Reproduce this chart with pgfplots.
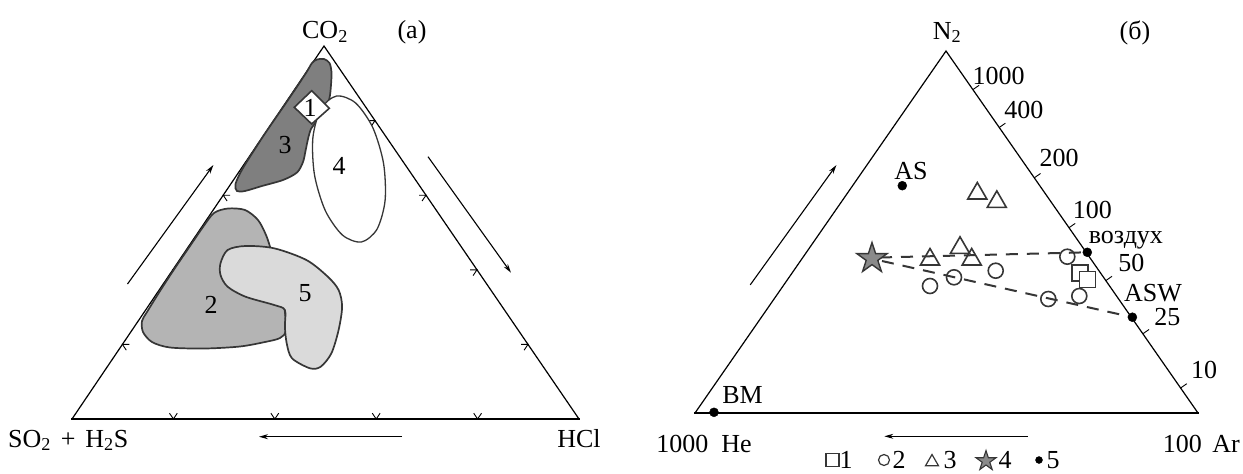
\documentclass[border=0pt]{standalone}
\usepackage{pgfplots}
\pgfplotsset{compat=1.18}
\usepackage{fontspec}
\setmainfont{Liberation Serif}
\usetikzlibrary{arrows.meta}
\definecolor{regA}{HTML}{7F7F7F}
\definecolor{regB}{HTML}{B4B4B4}
\definecolor{regC}{HTML}{DADADA}
\definecolor{outl}{HTML}{363636}
\definecolor{starf}{HTML}{8A8A8A}
\newcommand\fs{\fontsize{26}{31}\selectfont}
\pgfdeclareplotmark{fstar}{%
  \pgfpathmoveto{\pgfpoint{0pt}{\pgfplotmarksize}}%
  \pgfpathlineto{\pgfpoint{-0.2245\pgfplotmarksize}{0.309\pgfplotmarksize}}%
  \pgfpathlineto{\pgfpoint{-0.951\pgfplotmarksize}{0.309\pgfplotmarksize}}%
  \pgfpathlineto{\pgfpoint{-0.363\pgfplotmarksize}{-0.118\pgfplotmarksize}}%
  \pgfpathlineto{\pgfpoint{-0.588\pgfplotmarksize}{-0.809\pgfplotmarksize}}%
  \pgfpathlineto{\pgfpoint{0pt}{-0.382\pgfplotmarksize}}%
  \pgfpathlineto{\pgfpoint{0.588\pgfplotmarksize}{-0.809\pgfplotmarksize}}%
  \pgfpathlineto{\pgfpoint{0.363\pgfplotmarksize}{-0.118\pgfplotmarksize}}%
  \pgfpathlineto{\pgfpoint{0.951\pgfplotmarksize}{0.309\pgfplotmarksize}}%
  \pgfpathlineto{\pgfpoint{0.2245\pgfplotmarksize}{0.309\pgfplotmarksize}}%
  \pgfpathclose
  \pgfusepathqfillstroke
}
\begin{document}
\begin{tikzpicture}[lab/.style={font=\fs, inner sep=0pt},
  arr/.style={black, line width=1.1pt, -{Stealth[length=9pt,width=5pt]}}]
\begin{axis}[
  at={(0,0)}, anchor=south west,
  width=1243pt, height=474pt, scale only axis,
  xmin=0, xmax=1243, ymin=0, ymax=474, y dir=reverse,
  hide axis, clip=false, unbounded coords=jump,
]
% ---------------- left triangle (a) ----------------
\addplot[black, line width=1.2pt] coordinates {(72,419) (324,46) (579,419)};
\addplot[black, line width=2.6pt] coordinates {(71,419) (580,419)};
% ticks
\addplot[black, line width=0.9pt] coordinates {
 (280.6,120.6) (273.6,120.6) (277.5,126.4) (0,nan)
 (230.2,195.2) (223.2,195.2) (227.1,201.0) (0,nan)
 (179.8,269.8) (172.8,269.8) (176.7,275.6) (0,nan)
 (129.4,344.4) (122.4,344.4) (126.3,350.2) (0,nan)
 (368,120.6) (375,120.6) (371.1,126.4) (0,nan)
 (419,195.2) (426,195.2) (422.1,201.0) (0,nan)
 (470,269.8) (477,269.8) (473.1,275.6) (0,nan)
 (521,344.4) (528,344.4) (524.1,350.2) (0,nan)
 (169.5,413.2) (173.4,419) (177.3,413.2) (0,nan)
 (270.9,413.2) (274.8,419) (278.7,413.2) (0,nan)
 (372.3,413.2) (376.2,419) (380.1,413.2) (0,nan)
 (473.7,413.2) (477.6,419) (481.5,413.2)
};
% region 3
\addplot[draw=outl, fill=regA, line width=1.7pt, smooth cycle, tension=0.5] coordinates {
 (312,63) (317,59.5) (324,59) (329.5,63) (331.5,72) (331,85) (329.5,98) (325,110)
 (317,121) (311,129) (308,139) (305.5,151) (303,162) (297,172.5) (283,180) (262,186)
 (245,191) (237,191) (235.5,184) (243,168) (264,135) (288,100) (306,73)};
% region 4 (ellipse)
\addplot[draw=outl, fill=white, line width=1.3pt, smooth cycle] coordinates {
 (361.4,242.0) (377.0,229.2) (385.1,200.4) (383.5,163.1) (372.7,127.4) (355.5,102.9)
 (336.6,96.0) (321.0,108.8) (312.9,137.6) (314.5,174.9) (325.3,210.6) (342.5,235.1)};
% region 2
\addplot[draw=outl, fill=regB, line width=1.7pt, smooth cycle, tension=0.5] coordinates {
 (214,213) (228,208.5) (245,210) (258,220) (266,235) (271,250) (278,275) (284,305)
 (286,330) (280,338) (265,342) (240,346.5) (205,348.5) (170,347.5) (152,342) (143,332)
 (142,321) (147,312) (160,291) (175,268) (190,246) (203,227)};
% region 5
\addplot[draw=outl, fill=regC, line width=1.7pt, smooth cycle, tension=0.5] coordinates {
 (220.5,263.3) (227.6,250) (245.5,246) (274.2,248.3) (306.4,260) (327.8,276.7)
 (338.6,290) (342.1,306.7) (338.6,330) (331.4,353.3) (320.7,366.7) (310,368.3)
 (292,358.3) (286.7,343.3) (284.9,326.7) (284.9,310) (274.2,305) (245.5,296.7)
 (227.6,286.7) (220.5,275)};
% region 1 (diamond)
\addplot[draw=outl, fill=white, line width=1.6pt] coordinates {
 (294.3,107.3) (311.7,90.7) (329.3,108.3) (311.7,124)} -- cycle;
% arrows
\addplot[arr] coordinates {(127.5,284) (213.4,165)};
\addplot[arr] coordinates {(428,156.7) (511,272.7)};
\addplot[arr] coordinates {(402,436.7) (259,436.7)};
% labels
\node[lab, anchor=center] at (axis cs:310,108) {1};
\node[lab, anchor=center] at (axis cs:285,145) {3};
\node[lab, anchor=center] at (axis cs:339,166) {4};
\node[lab, anchor=center] at (axis cs:211,305) {2};
\node[lab, anchor=center] at (axis cs:305,293) {5};
\node[lab, anchor=base] at (axis cs:325,38.5) {CO\textsubscript{2}};
\node[lab, anchor=base] at (axis cs:412,38.5) {(а)};
\node[lab, anchor=base west] at (axis cs:8,447) {SO\textsubscript{2}\hspace{0.38em}+\hspace{0.38em}H\textsubscript{2}S};
\node[lab, anchor=base] at (axis cs:579,447) {HCl};
% ---------------- right triangle (b) ----------------
\addplot[black, line width=1.2pt] coordinates {(695,413) (946,51) (1198,413)};
\addplot[black, line width=2.6pt] coordinates {(694,413) (1199,413)};
\addplot[black, line width=0.9pt] coordinates {
 (972.9,89.6) (979.1,85.3) (0,nan)
 (999.2,127.5) (1005.4,123.2) (0,nan)
 (1034.3,177.8) (1040.5,173.5) (0,nan)
 (1069.0,227.7) (1075.2,223.4) (0,nan)
 (1105.8,280.6) (1112,276.3) (0,nan)
 (1142.8,333.8) (1149,329.5) (0,nan)
 (1180.6,388) (1186.8,383.7)};
% dashed mixing lines
\addplot[outl, line width=2pt, dash pattern=on 12pt off 9pt] coordinates {(880,257.5) (1087.3,252.3)};
\addplot[outl, line width=2pt, dash pattern=on 12pt off 9pt] coordinates {(882,261) (1132.4,317.2)};
% arrows
\addplot[arr] coordinates {(750.2,284.9) (836.4,165.1)};
\addplot[arr] coordinates {(1027.8,436.3) (884.3,436.3)};
% series 3: triangles
\addplot[only marks, mark=triangle, mark size=11pt, mark options={draw=outl, line width=1.6pt, fill=none}] coordinates {
 (977.3,193.5) (996.8,201.9) (930,259.5) (960,247.8) (971.7,259.5)};
% series 2: circles
\addplot[only marks, mark=o, mark size=7.5pt, mark options={draw=outl, line width=1.6pt, fill=white}] coordinates {
 (930,286) (954,277.3) (995.7,270.7) (1067.3,256.7) (1048.3,299) (1079.3,296)};
% series 1: squares
\addplot[only marks, mark=square*, mark size=8pt, mark options={draw=outl, line width=1.6pt, fill=white}] coordinates {
 (1080,272.7) (1087.3,279.3)};
% series 4: star
\addplot[only marks, mark=fstar, mark size=16pt, mark options={draw=outl, line width=1.4pt, fill=starf}] coordinates {(872,258.5)};
% series 5: dots
\addplot[only marks, mark=*, mark size=4.5pt, mark options={draw=black, fill=black}] coordinates {
 (902.3,185.7) (1087.3,252.3) (1132.4,317.2) (714,412.3)};
% labels
\node[lab, anchor=base] at (axis cs:947,39) {N\textsubscript{2}};
\node[lab, anchor=base] at (axis cs:1135,39) {(б)};
\node[lab, anchor=base] at (axis cs:998.6,84) {1000};
\node[lab, anchor=base] at (axis cs:1023.9,118.5) {400};
\node[lab, anchor=base] at (axis cs:1059.2,166.8) {200};
\node[lab, anchor=base] at (axis cs:1092.4,218.3) {100};
\node[lab, anchor=base] at (axis cs:1125.9,243) {воздух};
\node[lab, anchor=base] at (axis cs:1131.3,271.6) {50};
\node[lab, anchor=base] at (axis cs:1153,301.5) {ASW};
\node[lab, anchor=base] at (axis cs:1167.4,325.5) {25};
\node[lab, anchor=base] at (axis cs:1204,378.7) {10};
\node[lab, anchor=base] at (axis cs:911,179) {AS};
\node[lab, anchor=base] at (axis cs:742.5,403.3) {BM};
\node[lab, anchor=base east] at (axis cs:752,452) {1000\hspace{0.5em}He};
\node[lab, anchor=base east] at (axis cs:1240,452) {100\hspace{0.4em}Ar};
% legend
\addplot[only marks, mark=square, mark size=6.5pt, mark options={draw=outl, line width=1.2pt}] coordinates {(832.5,460)};
\addplot[only marks, mark=o, mark size=5.5pt, mark options={draw=outl, line width=1.2pt}] coordinates {(884,460)};
\addplot[only marks, mark=triangle, mark size=7.5pt, mark options={draw=outl, line width=1.2pt}] coordinates {(932,462)};
\addplot[only marks, mark=fstar, mark size=10.5pt, mark options={draw=outl, line width=1.1pt, fill=starf}] coordinates {(986,461)};
\addplot[only marks, mark=*, mark size=3.5pt, mark options={draw=black, fill=black}] coordinates {(1039,460)};
\node[lab, anchor=base] at (axis cs:846,468.5) {1};
\node[lab, anchor=base] at (axis cs:899,468.5) {2};
\node[lab, anchor=base] at (axis cs:950,468.5) {3};
\node[lab, anchor=base] at (axis cs:1005,468.5) {4};
\node[lab, anchor=base] at (axis cs:1053,468.5) {5};
\end{axis}
\pgfresetboundingbox
\path[use as bounding box] (0,0) rectangle (1243pt,474pt);
\end{tikzpicture}
\end{document}
